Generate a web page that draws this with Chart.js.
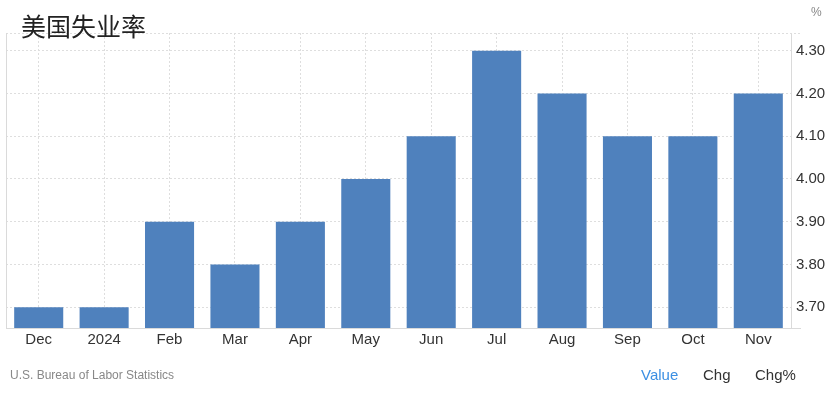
<!DOCTYPE html>
<html>
<head>
<meta charset="utf-8">
<script src="https://cdn.jsdelivr.net/npm/chart.js@4/dist/chart.umd.min.js"></script>
<style>
  html, body { margin: 0; padding: 0; background: #fff; }
  #wrap { position: relative; width: 837px; height: 393px; overflow: hidden; font-family: "Liberation Sans", Arial, sans-serif; }
  #chart { position: absolute; left: 0; top: 0; }
  .title { position: absolute; left: 21px; top: 9px; font: 25px "Noto Sans CJK SC", sans-serif; color: #222; line-height: 32px; }
  .unit { position: absolute; left: 811px; top: 5px; font-size: 12px; color: #888; }
  .source { position: absolute; left: 10px; top: 368px; font-size: 12px; color: #888; }
  .mode { position: absolute; top: 366px; font-size: 15px; color: #333; }
  .mode.on { color: #3b8fe3; }
</style>
</head>
<body>
<div id="wrap">
  <canvas id="chart" width="837" height="393"></canvas>
  <div class="title">美国失业率</div>
  <div class="unit">%</div>
  <div class="source">U.S. Bureau of Labor Statistics</div>
  <div class="mode on" style="left:641px">Value</div>
  <div class="mode" style="left:703px">Chg</div>
  <div class="mode" style="left:755px">Chg%</div>
</div>
<script>
// unemployment rate, monthly
const months = ["Dec", "2024", "Feb", "Mar", "Apr", "May", "Jun", "Jul", "Aug", "Sep", "Oct", "Nov"];
const rates  = [3.7, 3.7, 3.9, 3.8, 3.9, 4.0, 4.1, 4.3, 4.2, 4.1, 4.1, 4.2];
const yTicks = [3.7, 3.8, 3.9, 4.0, 4.1, 4.2, 4.3];

const GRID = "#dedede";
const AXIS = "#dadada";

// dotted top edge, solid left edge and solid base line of the plot area
const frame = {
  id: "frame",
  beforeDatasetsDraw(chart) {
    const { ctx, chartArea: a } = chart;
    ctx.save();
    ctx.lineWidth = 1;
    ctx.strokeStyle = GRID;
    ctx.setLineDash([2, 2]);
    ctx.beginPath();
    ctx.moveTo(a.left, a.top + 0.5);
    ctx.lineTo(a.right + 10, a.top + 0.5);
    ctx.stroke();
    ctx.setLineDash([]);
    ctx.strokeStyle = AXIS;
    ctx.beginPath();
    ctx.moveTo(a.left + 0.5, a.top);
    ctx.lineTo(a.left + 0.5, a.bottom);
    ctx.stroke();
    ctx.restore();
  },
  afterDatasetsDraw(chart) {
    const { ctx, chartArea: a } = chart;
    ctx.save();
    ctx.strokeStyle = AXIS;
    ctx.lineWidth = 1;
    ctx.beginPath();
    ctx.moveTo(a.left, a.bottom + 0.5);
    ctx.lineTo(a.right + 10, a.bottom + 0.5);
    ctx.stroke();
    ctx.restore();
  }
};

new Chart(document.getElementById("chart"), {
  type: "bar",
  data: {
    labels: months,
    datasets: [{
      data: rates,
      backgroundColor: "#4f81bd",
      barPercentage: 0.75,
      categoryPercentage: 1,
    }],
  },
  options: {
    responsive: false,
    animation: false,
    layout: { padding: { left: 6, top: 33, right: 0, bottom: 40 } },
    plugins: { legend: { display: false }, tooltip: { enabled: false } },
    scales: {
      x: {
        grid: { color: GRID, drawTicks: false, offset: false },
        border: { color: AXIS, dash: [2, 2] },
        ticks: { color: "#333", padding: 3, font: { family: "Liberation Sans", size: 15 } },
        afterFit(s) { s.height = 25; },
      },
      y: {
        position: "right",
        min: 3.6515,
        max: 4.3414,
        afterBuildTicks(s) { s.ticks = yTicks.map(v => ({ value: v })); },
        grid: { color: GRID, drawTicks: false },
        border: { color: AXIS, dash: [2, 2] },
        ticks: {
          color: "#333", padding: 5,
          font: { family: "Liberation Sans", size: 15 },
          callback: v => Number(v).toFixed(2),
        },
        afterFit(s) { s.width = 46; },
      },
    },
  },
  plugins: [frame],
});
</script>
</body>
</html>
